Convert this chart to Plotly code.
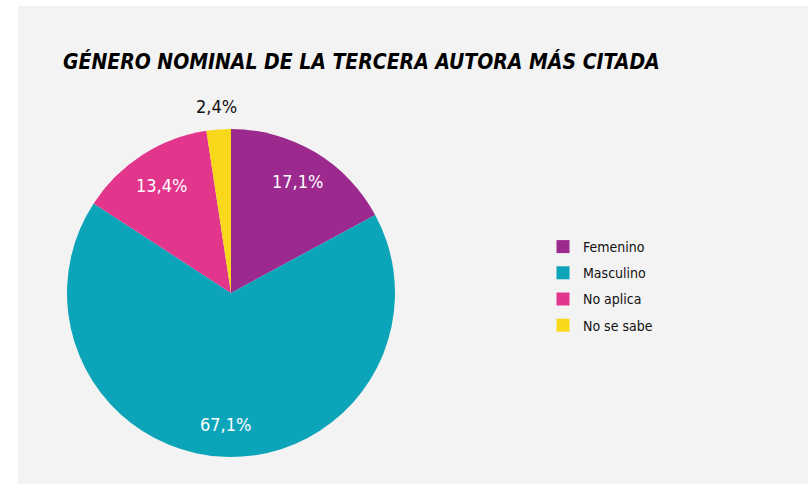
import math
import plotly.graph_objects as go

# Data
categories = ["Femenino", "Masculino", "No aplica", "No se sabe"]
shares = [17.1, 67.1, 13.4, 2.4]
colors = ["#9c2a8e", "#0ba4b9", "#e2358c", "#f8d81a"]
text_colors = ["white", "white", "white", "#111111"]
label_radius = [0.79, 0.80, 0.78, 1.14]  # fraction of pie radius
title_text = "GÉNERO NOMINAL DE LA TERCERA AUTORA MÁS CITADA"

W, H = 808, 484
cx, cy, r = 231, 293, 164
FONT = "DejaVu Sans Condensed, Liberation Sans Narrow, Arial Narrow, sans-serif"

fig = go.Figure(
    go.Pie(
        labels=categories,
        values=shares,
        sort=False,
        direction="clockwise",
        rotation=0,
        marker=dict(colors=colors, line=dict(width=0)),
        textinfo="none",
        hoverinfo="label+percent",
        showlegend=False,
        domain=dict(
            x=[(cx - r) / W, (cx + r) / W],
            y=[(H - cy - r) / H, (H - cy + r) / H],
        ),
        automargin=False,
    )
)

# Percentage labels placed at each slice's mid-angle
total = sum(shares)
annotations = []
cum = 0.0
for val, col, rf in zip(shares, text_colors, label_radius):
    mid = (cum + val / 2) / total * 2 * math.pi
    cum += val
    px = cx + rf * r * math.sin(mid)
    py = cy - rf * r * math.cos(mid)
    annotations.append(dict(
        x=px / W, y=1 - py / H, xref="paper", yref="paper",
        text=f"{val:.1f}%".replace(".", ","), showarrow=False,
        xanchor="center", yanchor="middle",
        font=dict(family=FONT, size=18, color=col),
    ))

# Legend entries (one per category)
for name, col in zip(categories, colors):
    fig.add_trace(go.Scatter(
        x=[None], y=[None], mode="markers", name=name, legendgroup=name,
        marker=dict(symbol="square", size=13, color=col),
        hoverinfo="skip",
    ))

fig.update_layout(
    width=W,
    height=H,
    margin=dict(l=0, r=0, t=0, b=0),
    paper_bgcolor="white",
    plot_bgcolor="rgba(0,0,0,0)",
    xaxis=dict(visible=False),
    yaxis=dict(visible=False),
    title=dict(
        text=title_text,
        x=63 / W,
        xanchor="left",
        xref="paper",
        y=1 - 62 / H,
        yanchor="middle",
        yref="paper",
        font=dict(family=FONT, size=21, color="#000000",
                  weight="bold", style="italic"),
    ),
    legend=dict(
        x=543 / W,
        y=1 - 231 / H,
        xanchor="left",
        yanchor="top",
        font=dict(family=FONT, size=14, color="#111111"),
        itemwidth=30,
        tracegroupgap=5,
        bgcolor="rgba(0,0,0,0)",
    ),
    annotations=annotations,
    shapes=[
        # light paper sheet behind the chart
        dict(type="rect", xref="paper", yref="paper", layer="below",
             x0=18 / W, x1=1, y0=0, y1=1 - 6 / H,
             fillcolor="#f3f3f3", line=dict(width=0)),
    ],
)

fig.write_html("out.html")
